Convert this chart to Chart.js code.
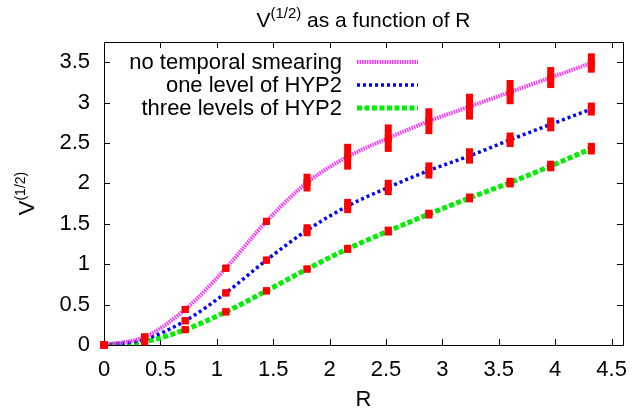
<!DOCTYPE html>
<html>
<head>
<meta charset="utf-8">
<script src="https://cdn.jsdelivr.net/npm/chart.js@4.4.1/dist/chart.umd.min.js"></script>
<style>
html,body{margin:0;padding:0;background:#fff;}
#wrap{width:639px;height:415px;position:relative;}
</style>
</head>
<body>
<div id="wrap"><canvas id="c"></canvas></div>
<script>
// ---- data ----
const R = [0, 0.36, 0.72, 1.08, 1.44, 1.8, 2.16, 2.52, 2.88, 3.24, 3.6, 3.96, 4.32];
const noSmear    = [0, 0.10, 0.44, 0.95, 1.53, 2.01, 2.33, 2.56, 2.77, 2.95, 3.13, 3.31, 3.49];
const noSmearErr = [0, 0.03, 0.01, 0.01, 0.02, 0.11, 0.16, 0.17, 0.16, 0.16, 0.15, 0.13, 0.12];
const hyp1       = [0, 0.07, 0.30, 0.645, 1.05, 1.42, 1.72, 1.95, 2.16, 2.34, 2.54, 2.73, 2.92];
const hyp1Err    = [0, 0.02, 0.01, 0.01, 0.03, 0.074, 0.088, 0.095, 0.10, 0.095, 0.09, 0.086, 0.08];
const hyp3       = [0, 0.04, 0.19, 0.41, 0.67, 0.94, 1.19, 1.41, 1.62, 1.82, 2.01, 2.215, 2.43];
const hyp3Err    = [0, 0.01, 0.01, 0.01, 0.01, 0.01, 0.05, 0.055, 0.055, 0.055, 0.06, 0.066, 0.072];
const seriesNames = ["no temporal smearing", "one level of HYP2", "three levels of HYP2"];
const xTicks = [0, 0.5, 1, 1.5, 2, 2.5, 3, 3.5, 4, 4.5];
const yTicks = [0, 0.5, 1, 1.5, 2, 2.5, 3, 3.5];
const titleMain = "V", titleSup = "(1/2)", titleRest = " as a function of R";
const yLabelMain = "V", yLabelSup = "(1/2)";
const xLabel = "R";

const FONT = '"Liberation Sans", Arial, Helvetica, sans-serif';
const styles = [
  {color: '#ff33ff', width: 4, dash: [1.5, 1]},
  {color: '#0000ff', width: 3.5, dash: [3, 3]},
  {color: '#00ee00', width: 5, dash: [5, 2.5]}
];
const vals = [noSmear, hyp1, hyp3];
const errs = [noSmearErr, hyp1Err, hyp3Err];

const datasets = vals.map((v, k) => ({
  label: seriesNames[k],
  data: R.map((x, i) => ({x: x, y: v[i]})),
  showLine: true,
  pointRadius: 0,
  borderColor: styles[k].color,
  borderWidth: styles[k].width,
  borderDash: styles[k].dash,
  cubicInterpolationMode: 'monotone',
  fill: false
}));

const framePlugin = {
  id: 'frame',
  beforeDatasetsDraw(chart) {
    const {ctx, chartArea: a, scales: {x, y}} = chart;
    ctx.save();
    ctx.strokeStyle = '#000';
    ctx.lineWidth = 1;
    ctx.beginPath();
    const L = 6;
    xTicks.forEach(v => {
      const px = Math.round(x.getPixelForValue(v)) + 0.5;
      ctx.moveTo(px, a.bottom); ctx.lineTo(px, a.bottom - L);
      ctx.moveTo(px, a.top); ctx.lineTo(px, a.top + L);
    });
    yTicks.forEach(v => {
      const py = Math.round(y.getPixelForValue(v)) + 0.5;
      ctx.moveTo(a.left, py); ctx.lineTo(a.left + L, py);
      ctx.moveTo(a.right, py); ctx.lineTo(a.right - L, py);
    });
    ctx.stroke();
    ctx.strokeRect(Math.round(a.left) + 0.5, Math.round(a.top) + 0.5,
                   Math.round(a.right - a.left), Math.round(a.bottom - a.top));
    ctx.restore();
  },
  afterDatasetsDraw(chart) {
    const {ctx, scales: {x, y}} = chart;
    ctx.save();
    ctx.fillStyle = '#ff0000';
    vals.forEach((v, k) => {
      R.forEach((r, i) => {
        const px = x.getPixelForValue(r);
        const py = y.getPixelForValue(v[i]);
        const t = y.getPixelForValue(v[i] + errs[k][i]);
        const b = y.getPixelForValue(v[i] - errs[k][i]);
        const top = Math.min(t, py - 3.5), bot = Math.max(b, py + 3.5);
        ctx.fillRect(px - 3.5, top, 7, bot - top);
        ctx.fillRect(px - 3.5, py - 3.5, 7, 7);
      });
    });
    ctx.restore();
  },
  afterDraw(chart) {
    const {ctx, chartArea: a} = chart;
    ctx.save();
    ctx.fillStyle = '#000';
    // title
    const big = '21px ' + FONT, small = '15px ' + FONT, lab = '22px ' + FONT, sup = '14px ' + FONT;
    ctx.font = big; const w1 = ctx.measureText(titleMain).width;
    const w3 = ctx.measureText(titleRest).width;
    ctx.font = small; const w2 = ctx.measureText(titleSup).width;
    const cx = (a.left + a.right) / 2;
    let sx = cx - (w1 + w2 + w3) / 2;
    ctx.textBaseline = 'alphabetic';
    ctx.textAlign = 'left';
    ctx.font = big; ctx.fillText(titleMain, sx, 27);
    ctx.font = small; ctx.fillText(titleSup, sx + w1, 18);
    ctx.font = big; ctx.fillText(titleRest, sx + w1 + w2, 27);
    // x label
    ctx.textAlign = 'center';
    ctx.font = lab;
    ctx.fillText(xLabel, cx, 406);
    // y label
    ctx.save();
    ctx.translate(34, (a.top + a.bottom) / 2);
    ctx.rotate(-Math.PI / 2);
    ctx.font = lab; const yw1 = ctx.measureText(yLabelMain).width;
    ctx.font = sup; const yw2 = ctx.measureText(yLabelSup).width;
    const ys = -(yw1 + yw2) / 2;
    ctx.textAlign = 'left';
    ctx.font = lab; ctx.fillText(yLabelMain, ys, 0);
    ctx.font = sup; ctx.fillText(yLabelSup, ys + yw1, -9);
    ctx.restore();
    // legend
    ctx.font = lab;
    ctx.textAlign = 'right';
    ctx.textBaseline = 'middle';
    seriesNames.forEach((n, k) => {
      const ly = 62 + k * 23;
      ctx.fillStyle = '#000';
      ctx.fillText(n, 342, ly + 1);
      ctx.strokeStyle = styles[k].color;
      ctx.lineWidth = styles[k].width;
      ctx.setLineDash(styles[k].dash);
      ctx.beginPath();
      ctx.moveTo(357, ly); ctx.lineTo(418, ly);
      ctx.stroke();
    });
    ctx.restore();
  }
};

new Chart(document.getElementById('c'), {
  type: 'scatter',
  data: {datasets: datasets},
  plugins: [framePlugin],
  options: {
    responsive: true,
    maintainAspectRatio: false,
    animation: false,
    layout: {padding: {top: 42, right: 4, left: 0, bottom: 0}},
    plugins: {legend: {display: false}, title: {display: false}, tooltip: {enabled: false}},
    scales: {
      x: {
        type: 'linear', min: 0, max: 4.6,
        afterBuildTicks: s => { s.ticks = xTicks.map(v => ({value: v})); },
        afterFit: s => { s.height = 70; },
        grid: {display: false, drawTicks: false},
        border: {display: false},
        ticks: {color: '#000', font: {size: 22, family: FONT}, padding: 12, maxRotation: 0,
                callback: v => String(v)}
      },
      y: {
        type: 'linear', min: 0, max: 3.75,
        afterBuildTicks: s => { s.ticks = yTicks.map(v => ({value: v})); },
        afterFit: s => { s.width = 104; },
        grid: {display: false, drawTicks: false},
        border: {display: false},
        ticks: {color: '#000', font: {size: 22, family: FONT}, padding: 14,
                callback: v => String(v)}
      }
    }
  }
});
</script>
</body>
</html>
